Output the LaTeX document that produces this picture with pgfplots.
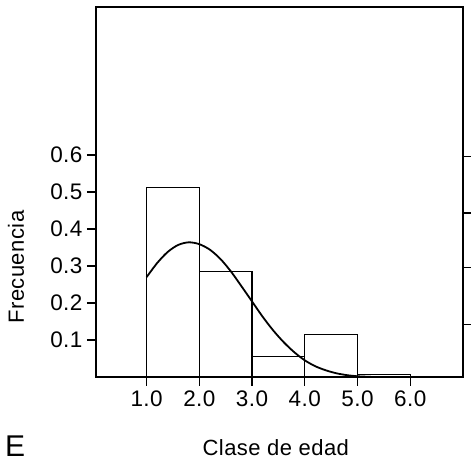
\documentclass[border=0pt]{standalone}
\usepackage{fontspec}
\setmainfont{Liberation Sans}[LetterSpace=2]
\usepackage{pgfplots}
\pgfplotsset{compat=1.18}
\begin{document}
\begin{tikzpicture}
\pgfplotsset{
  every axis/.append style={
    scale only axis, width=367pt, height=370pt,
    xmin=0.04, xmax=7, ymin=0, ymax=1,
    at={(0,0)}, anchor=south west,
    tick align=outside, major tick length=9pt,
    tick style={line width=1.2pt, black},
    axis line style={line width=1.6pt},
  }
}
\begin{axis}[
  xtick={1,2,3,4,5,6}, ytick={0.1,0.2,0.3,0.4,0.5,0.6},
  xtick pos=left, ytick pos=left,
  /pgf/number format/assume math mode=true,
  xticklabel={\pgfmathprintnumber[fixed,fixed zerofill,precision=1]{\tick}},
  yticklabel={\pgfmathprintnumber[fixed,fixed zerofill,precision=1]{\tick}},
  ticklabel style={font=\fontsize{22.5}{26}\selectfont},
  xticklabel style={yshift=-1pt},
  yticklabel style={xshift=-1pt},
  xlabel={Clase de edad}, ylabel={Frecuencia},
  label style={font=\fontsize{22}{26}\selectfont},
  xlabel style={at={(axis description cs:0.49,-0.192)}, anchor=center},
  ylabel style={at={(axis description cs:-0.218,0.297)}, anchor=center},
]
\addplot[ybar interval, draw=black, fill=none, line width=1.3pt]
  coordinates {(1,0.512)(2,0.285)(3,0.055)(4,0.114)(5,0.007)(6,0.007)};
\addplot[smooth, line width=1.8pt, black] coordinates {
  (1.0,0.270)(1.2,0.308)(1.4,0.338)(1.6,0.357)(1.8,0.364)(2.0,0.359)
  (2.2,0.344)(2.4,0.319)(2.6,0.285)(2.8,0.245)(3.0,0.204)(3.2,0.163)
  (3.4,0.126)(3.6,0.094)(3.8,0.067)(4.0,0.045)(4.2,0.029)(4.4,0.018)
  (4.6,0.010)(4.8,0.005)(5.0,0.002)(5.3,0.000)};
\end{axis}
\begin{axis}[
  hide x axis, axis y line*=right,
  ytick={0.141,0.295,0.443,0.595}, yticklabels={},
]
\end{axis}
\node[anchor=base west, inner sep=0pt, font=\fontsize{30}{34}\selectfont] at (-91pt,-80pt) {E};
\pgfresetboundingbox
\path (-96pt,-88pt) rectangle (375pt,377pt);
\end{tikzpicture}
\end{document}
